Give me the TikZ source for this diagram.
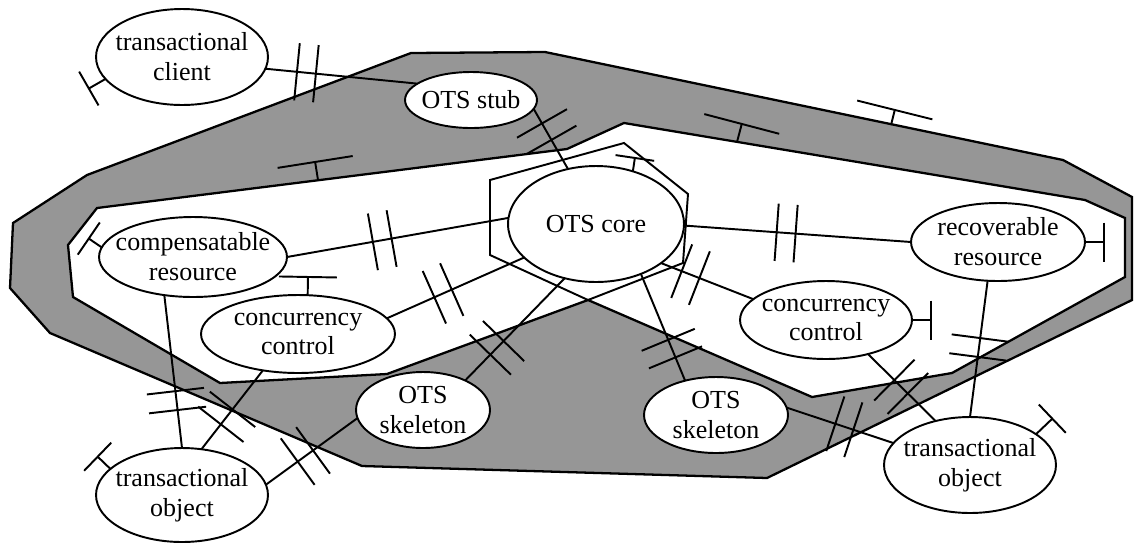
\documentclass[tikz,border=0pt]{standalone}
\usepackage{fontspec}
\setmainfont{Liberation Serif}
\usepackage{tikz}
\usetikzlibrary{shapes.geometric,arrows.meta,decorations.markings}

\definecolor{bandgray}{RGB}{150,150,150}

\begin{document}
\begin{tikzpicture}[
  x=0.02cm, y=-0.02cm, line width=1.1pt,
  part/.style 2 args={ellipse, draw, fill=white, inner sep=0pt, outer sep=0pt,
                      minimum width=#1, minimum height=#2},
  lbl/.style={align=center, inner sep=0pt, font=\fontsize{14.8}{17}\selectfont},
  band/.style={draw, fill=bandgray, line width=1.3pt},
  zone/.style={draw, fill=white, line width=1.3pt},
  dbar/.style={postaction={decorate, decoration={markings, mark=at position #1 with
               {\draw (-0.19cm,-0.575cm) -- (-0.19cm,0.575cm) (0.19cm,-0.575cm) -- (0.19cm,0.575cm);}}}},
  tee/.style={-{Bar[width=#1]}},
  tee/.default=0.78cm,
]
  \useasboundingbox (0,0) rectangle (1135,542);

  % Band, zone and core hexagon
  \draw[band] (13,223) -- (87,175) -- (411,53) -- (545,52) -- (1063,160) -- (1132,197)
    -- (1132,300) -- (767,478) -- (362,466) -- (50,333) -- (10,288) -- cycle;
  \draw[zone] (97,208) -- (567,149) -- (624,123) -- (1085,200) -- (1125,218) -- (1125,277)
    -- (952,373) -- (812,397) -- (588,300) -- (387,374) -- (220,383) -- (73,297) -- (68,245) -- cycle;
  \draw (490,180) -- (624,143) -- (688,194) -- (683,263) -- (588,300) -- (490,255) -- cycle;

  % Parts
  \node[part={3.44cm}{1.92cm}, label={[lbl]center:{transactional\\client}}] (client) at (182,57) {};
  \node[part={2.64cm}{1.12cm}, label={[lbl]center:OTS stub}] (stub) at (471,100) {};
  \node[part={3.52cm}{2.32cm}, label={[lbl]center:OTS core}] (core) at (596,224) {};
  \node[part={3.76cm}{1.6cm}, label={[lbl]center:{compensatable\\resource}}] (comp) at (193,257) {};
  \node[part={3.88cm}{1.56cm}, label={[lbl]center:{concurrency\\control}}] (concL) at (298,334) {};
  \node[part={2.68cm}{1.52cm}, label={[lbl]center:{OTS\\skeleton}}] (skelL) at (423,410) {};
  \node[part={3.44cm}{1.88cm}, label={[lbl]center:{transactional\\object}}] (objL) at (182,495) {};
  \node[part={3.48cm}{1.56cm}, label={[lbl]center:{recoverable\\resource}}] (recov) at (998,242) {};
  \node[part={3.44cm}{1.56cm}, label={[lbl]center:{concurrency\\control}}] (concR) at (826,320) {};
  \node[part={2.88cm}{1.52cm}, label={[lbl]center:{OTS\\skeleton}}] (skelR) at (716,415) {};
  \node[part={3.44cm}{1.92cm}, label={[lbl]center:{transactional\\object}}] (objR) at (970,465) {};

  % Connectors
  \draw[dbar=0.27] (client.-8) -- (stub.163);
  \draw[dbar=0.38] (stub.-8) -- (core.117);
  \draw[dbar=0.43] (comp.0) -- (core.176);
  \draw[dbar=0.41] (concL.10) -- (core.205);
  \draw[dbar=0.32] (skelL.35) -- (core.240);
  \draw[dbar=0.70] (core.-48) -- (skelR.132);
  \draw[dbar=0.32] (core.-31) -- (concR.164);
  \draw[dbar=0.45] (core.-1) -- (recov.west);
  \draw[dbar=0.69] (comp.233) -- (objL.north);
  \draw[dbar=0.59] (concL.226) -- (objL.67);
  \draw[dbar=0.57] (skelL.187) -- (objL.7);
  \draw[dbar=0.54] (skelR.6) -- (objR.164);
  \draw[dbar=0.49] (concR.-39) -- (objR.128);
  \draw[dbar=0.49] (recov.255) -- (objR.north);

  % Tees
  \coordinate (clientT) at (88,89);
  \coordinate (compT) at (88,238);
  \coordinate (concLT) at (308,276);
  \coordinate (coreT) at (635,157);
  \coordinate (recovT) at (1105,242);
  \coordinate (concRT) at (932,320);
  \coordinate (objLT) at (97,456);
  \coordinate (objRT) at (1053,418);
  \draw[tee] (client.196) -- (clientT);
  \draw[tee] (comp.174) -- (compT);
  \draw[tee=1.16cm] (concL.76) -- (concLT);
  \draw[tee] (core.55) -- (coreT);
  \draw[tee] (recov.east) -- (recovT);
  \draw[tee] (concR.east) -- (concRT);
  \draw[tee] (objL.160) -- (objLT);
  \draw[tee] (objR.25) -- (objRT);

  % Tees on the zone and the band
  \coordinate (zoneA) at (318,180);
  \coordinate (zoneAT) at (315,161);
  \coordinate (zoneB) at (737,142);
  \coordinate (zoneBT) at (742,123);
  \coordinate (bandA) at (891,125);
  \coordinate (bandAT) at (895,109);
  \draw[tee=1.52cm] (zoneA) -- (zoneAT);
  \draw[tee=1.55cm] (zoneB) -- (zoneBT);
  \draw[tee=1.55cm] (bandA) -- (bandAT);
\end{tikzpicture}
\end{document}
